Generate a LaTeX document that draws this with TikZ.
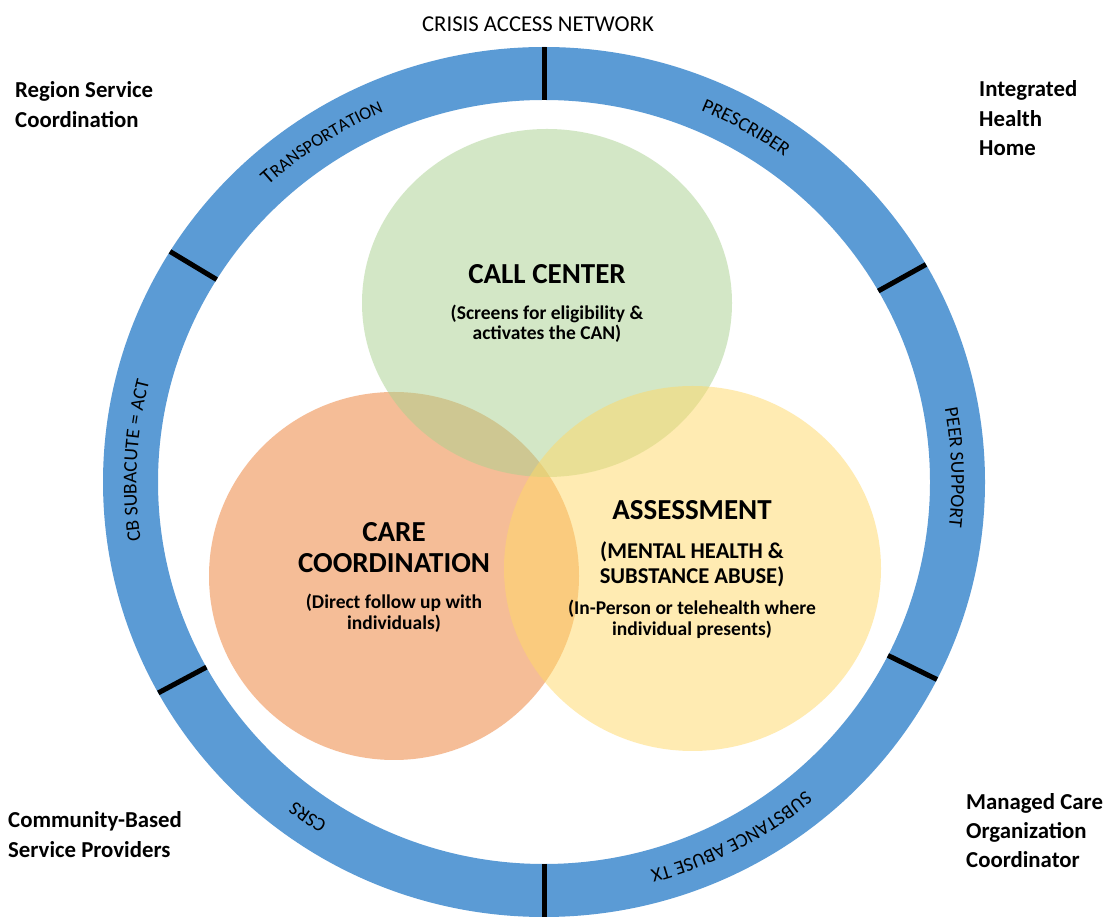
\documentclass[tikz,border=0pt]{standalone}
\usepackage{fontspec}
\setmainfont{Carlito}
\usetikzlibrary{decorations.text,calc}
\definecolor{ringblue}{HTML}{5B9BD5}
\definecolor{corange}{HTML}{ED7D31}
\definecolor{cgreen}{HTML}{A9D18E}
\definecolor{cyellow}{HTML}{FFD966}
\newcommand\ringfont{\fontsize{19.5}{19.5}\selectfont}
\newcommand\ringsmall{\fontsize{18}{18}\selectfont}
\newcommand\ringbig{\fontsize{21.5}{21.5}\selectfont}
\begin{document}
\begin{tikzpicture}[x=1pt,y=1pt,
  sidelabel/.style={anchor=base west,inner sep=0pt,font=\fontsize{22.8}{29.5}\selectfont\bfseries},
  titlelabel/.style={anchor=base,inner sep=0pt,font=\fontsize{29}{32}\selectfont\bfseries},
  sublabel/.style={anchor=base,inner sep=0pt,font=\fontsize{19.5}{22}\selectfont\bfseries},
  midlabel/.style={anchor=base,inner sep=0pt,font=\fontsize{22.6}{26}\selectfont\bfseries},
  ticker/.style={line width=5pt,black},
  venn/.style={fill opacity=0.5}]
\useasboundingbox (0,0) rectangle (1110,920);
\fill[white] (0,0) rectangle (1110,920);
\coordinate (C) at (544,438);
% ring
\fill[ringblue,even odd rule] (C) ellipse[x radius=441pt,y radius=435pt] (C) ellipse[x radius=386pt,y radius=382pt];
% ticks
\foreach \a in {90,148,209,270,333,30}{
  \draw[ticker] ($(C)+({386*cos(\a)},{382*sin(\a)})$) -- ($(C)+({441*cos(\a)},{435*sin(\a)})$);
}
% ring labels (clockwise arcs, tops outward)
\newcommand\ringtext[2]{%
  \path[decorate,decoration={text along path,text align=center,text={#2}}]
    ($(C)+({407.5*cos(#1+40)},{402.5*sin(#1+40)})$)
    arc[start angle={#1+40},end angle={#1-40},x radius=407.5pt,y radius=402.5pt];}
\ringtext{123}{|\ringbig|T|\ringsmall|RANSPORTATION}
\ringtext{60.5}{|\ringfont|PRESCRIBER}
\ringtext{177}{|\ringfont|CB SUBACUTE = ACT}
\ringtext{235}{|\ringfont|CSRS}
\ringtext{297.6}{|\ringfont|SUBSTANCE ABUSE TX}
\ringtext{2}{|\ringfont|PEER SUPPORT}
% venn circles
\fill[corange,venn] (394,344) ellipse[x radius=185pt,y radius=184pt];
\fill[cgreen,venn] (547,617) ellipse[x radius=185pt,y radius=174pt];
\fill[cyellow,venn] (692.5,351.5) ellipse[x radius=188.5pt,y radius=182.5pt];
% circle texts
\node[titlelabel] (cc) at (547,636) {CALL CENTER};
\node[sublabel] (cc1) at (547,600) {(Screens for eligibility \&};
\node[sublabel] (cc2) at (547,580) {activates the CAN)};
\node[titlelabel] (care1) at (394,378.3) {CARE};
\node[titlelabel] (care2) at (394,347.3) {COORDINATION};
\node[sublabel] (care3) at (394,311) {(Direct follow up with};
\node[sublabel] (care4) at (394,290) {individuals)};
\node[titlelabel] (as1) at (692,400.7) {ASSESSMENT};
\node[midlabel] (as2) at (692,361) {(MENTAL HEALTH \&};
\node[midlabel] (as3) at (692,336) {SUBSTANCE ABUSE)};
\node[sublabel] (as4) at (692,305.5) {(In-Person or telehealth where};
\node[sublabel] (as5) at (692,284) {individual presents)};
% outside texts
\node[anchor=base,inner sep=0pt,font=\fontsize{22.7}{26}\selectfont] (can) at (538,888.5) {CRISIS ACCESS NETWORK};
\node[sidelabel] (rs1) at (15,822) {Region Service};
\node[sidelabel] (rs2) at (15,792) {Coordination};
\node[sidelabel] (ih1) at (979,823) {Integrated};
\node[sidelabel] (ih2) at (979,793) {Health};
\node[sidelabel] (ih3) at (979,764) {Home};
\node[sidelabel] (cb1) at (8,92) {Community-Based};
\node[sidelabel] (cb2) at (8,62) {Service Providers};
\node[sidelabel] (mc1) at (966,110.7) {Managed Care};
\node[sidelabel] (mc2) at (966,81.7) {Organization};
\node[sidelabel] (mc3) at (966,52.3) {Coordinator};
\end{tikzpicture}
\end{document}
